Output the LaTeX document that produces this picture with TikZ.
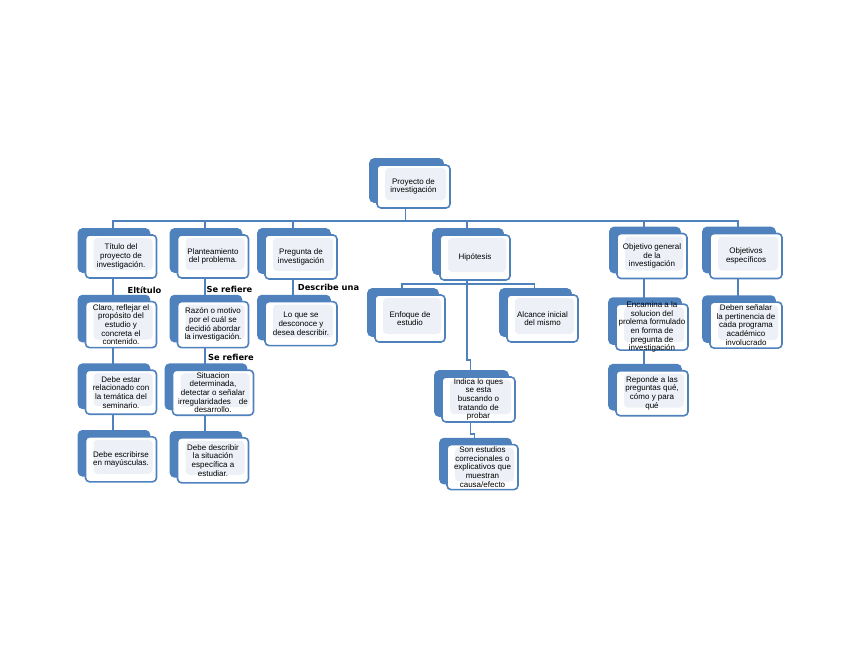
\documentclass[tikz,border=0pt]{standalone}
\usepackage{fontspec}
\setmainfont{Liberation Sans}
\newfontfamily\rotulofont{DejaVu Sans}
\usepackage{tikz}
\usetikzlibrary{positioning,backgrounds,shadows}

\begin{document}
\begin{tikzpicture}[
  x=1pt, y=-1pt,
  node distance=21pt,
  caja/.style={
    draw=azul,
    fill=white,
    line width=1.6pt,
    rounded corners=4pt,
    align=center,
    font=\fontsize{8}{8.7}\selectfont,
    minimum width=71pt,
    minimum height=44pt,
    inner sep=0pt,
    copy shadow={shadow xshift=-7pt,shadow yshift=6pt,fill=azul,draw=azul},
    path picture={\fill[claro] ([xshift=8pt,yshift=-3pt]path picture bounding box.north west)
      rectangle ([xshift=-4pt,yshift=8pt]path picture bounding box.south east);}
  },
  linea/.style={draw=azul,line width=1.8pt},
  rotulo/.style={font=\rotulofont\bfseries\fontsize{8.3}{10}\selectfont,inner sep=1pt}
]
\definecolor{azul}{HTML}{4F81BD}
\definecolor{claro}{HTML}{EDF1F7}

\path[use as bounding box] (0,0) rectangle (848,655);

\node[caja, minimum width=73pt, minimum height=43pt] (raiz) at (413.5,186.5) {Proyecto de\\investigación};

\node[caja, minimum height=43pt] (titulo) at (121,256.5) {Título del\\proyecto de\\investigación.};
\node[caja, minimum height=43pt] (planteamiento) at (213,256.5) {Planteamiento\\del problema.};
\node[caja, minimum width=72pt] (pregunta) at (301,257) {Pregunta de\\investigación};
\node[caja, minimum width=70pt, minimum height=45pt] (hipotesis) at (475,257.5) {Hipótesis};
\node[caja, minimum width=70pt, minimum height=45pt] (objgeneral) at (652,256) {Objetivo general\\de la\\investigación};
\node[caja, minimum width=72pt, minimum height=45pt] (objespec) at (746,256) {Objetivos\\específicos};

\node[caja, minimum height=46pt, below=22pt of titulo] (claro) {Claro, reflejar el\\propósito del\\estudio y\\concreta el\\contenido.};
\node[caja, below=21pt of claro] (relacionado) {Debe estar\\relacionado con\\la temática del\\seminario.};
\node[caja, minimum height=45pt, below=21pt of relacionado] (mayusculas) {Debe escribirse\\en mayúsculas.};

\node[caja, minimum height=46pt, below=22pt of planteamiento] (razon) {Razón o motivo\\por el cuál se\\decidió abordar\\la investigación.};
\node[caja, minimum width=81pt, minimum height=45pt, below=21pt of razon] (situacion) {Situacion\\determinada,\\detectar o señalar\\irregularidades\quad de\\desarrollo.};
\node[caja, minimum height=45pt, below=21pt of situacion] (describir) {Debe describir\\la situación\\específica a\\estudiar.};

\node[caja, minimum width=72pt, below=21pt of pregunta] (desconoce) {Lo que se\\desconoce y\\desea describir.};

\node[caja, minimum width=70pt, minimum height=47pt] (enfoque) at (410,318.5) {Enfoque de\\estudio};
\node[caja, minimum height=47pt] (alcance) at (542.5,318.5) {Alcance inicial\\del mismo};
\node[caja, minimum width=73pt, minimum height=45pt] (indica) at (478.5,399.5) {Indica lo ques\\se esta\\buscando o\\tratando de\\probar};
\node[caja, minimum height=45pt, below=21pt of indica, xshift=4pt] (sonestudios) {Son estudios\\correcionales o\\explicativos que\\muestran\\causa/efecto};

\node[caja, minimum width=72pt, minimum height=46pt, inner ysep=-3pt, below=24pt of objgeneral] (encamina) {Encamina a la\\solucion del\\prolema formulado\\en forma de\\pregunta de\\investigación};
\node[caja, minimum width=72pt, minimum height=45pt, below=19pt of encamina] (reponde) {Reponde a las\\preguntas qué,\\cómo y para\\qué};

\node[caja, minimum width=72pt, minimum height=46pt, below=22pt of objespec] (senalar) {Deben señalar\\la pertinencia de\\cada programa\\académico\\involucrado};

\node[rotulo] (eltitulo) at (144.5,290) {Eltítulo};
\node[rotulo] (serefiere) at (229.5,289) {Se refiere};
\node[rotulo] (describe) at (328.5,287) {Describe una};
\node[rotulo] (serefieredos) at (231,357) {Se refiere};

\begin{pgfonlayer}{background}
  \draw[linea] ([xshift=-8pt]raiz.south) -- ++(0,12) -| ([xshift=-8pt]titulo.north);
  \draw[linea] ([xshift=-8pt]raiz.south) -- ++(0,12) -| ([xshift=-8pt]planteamiento.north);
  \draw[linea] ([xshift=-8pt]raiz.south) -- ++(0,12) -| ([xshift=-8pt]pregunta.north);
  \draw[linea] ([xshift=-8pt]raiz.south) -- ++(0,12) -| ([xshift=-8pt]hipotesis.north);
  \draw[linea] ([xshift=-8pt]raiz.south) -- ++(0,12) -| ([xshift=-8pt]objgeneral.north);
  \draw[linea] ([xshift=-8pt]raiz.south) -- ++(0,12) -| ([xshift=-8pt]objespec.north);

  \draw[linea] ([xshift=-8pt]titulo.south) -- ([xshift=-8pt]claro.north);
  \draw[linea] ([xshift=-8pt]claro.south) -- ([xshift=-8pt]relacionado.north);
  \draw[linea] ([xshift=-8pt]relacionado.south) -- ([xshift=-8pt]mayusculas.north);
  \draw[linea] ([xshift=-8pt]planteamiento.south) -- ([xshift=-8pt]razon.north);
  \draw[linea] ([xshift=-8pt]razon.south) -- ([xshift=-8pt]situacion.north);
  \draw[linea] ([xshift=-8pt]situacion.south) -- ([xshift=-8pt]describir.north);
  \draw[linea] ([xshift=-8pt]pregunta.south) -- ([xshift=-8pt]desconoce.north);

  \draw[linea] ([xshift=-8pt]hipotesis.south) -- ++(0,3) -| ([xshift=-8pt]enfoque.north);
  \draw[linea] ([xshift=-8pt]hipotesis.south) -- ++(0,3) -| ([xshift=-8pt]alcance.north);
  \draw[linea] ([xshift=-8pt]hipotesis.south) |- ([xshift=-8pt,yshift=16pt]indica.north) -- ([xshift=-8pt]indica.north);
  \draw[linea] ([xshift=-8pt]indica.south) |- ([xshift=-8pt,yshift=10pt]sonestudios.north) -- ([xshift=-8pt]sonestudios.north);

  \draw[linea] ([xshift=-8pt]objgeneral.south) -- ([xshift=-8pt]encamina.north);
  \draw[linea] ([xshift=-8pt]encamina.south) -- ([xshift=-8pt]reponde.north);
  \draw[linea] ([xshift=-8pt]objespec.south) -- ([xshift=-8pt]senalar.north);
\end{pgfonlayer}
\end{tikzpicture}
\end{document}
